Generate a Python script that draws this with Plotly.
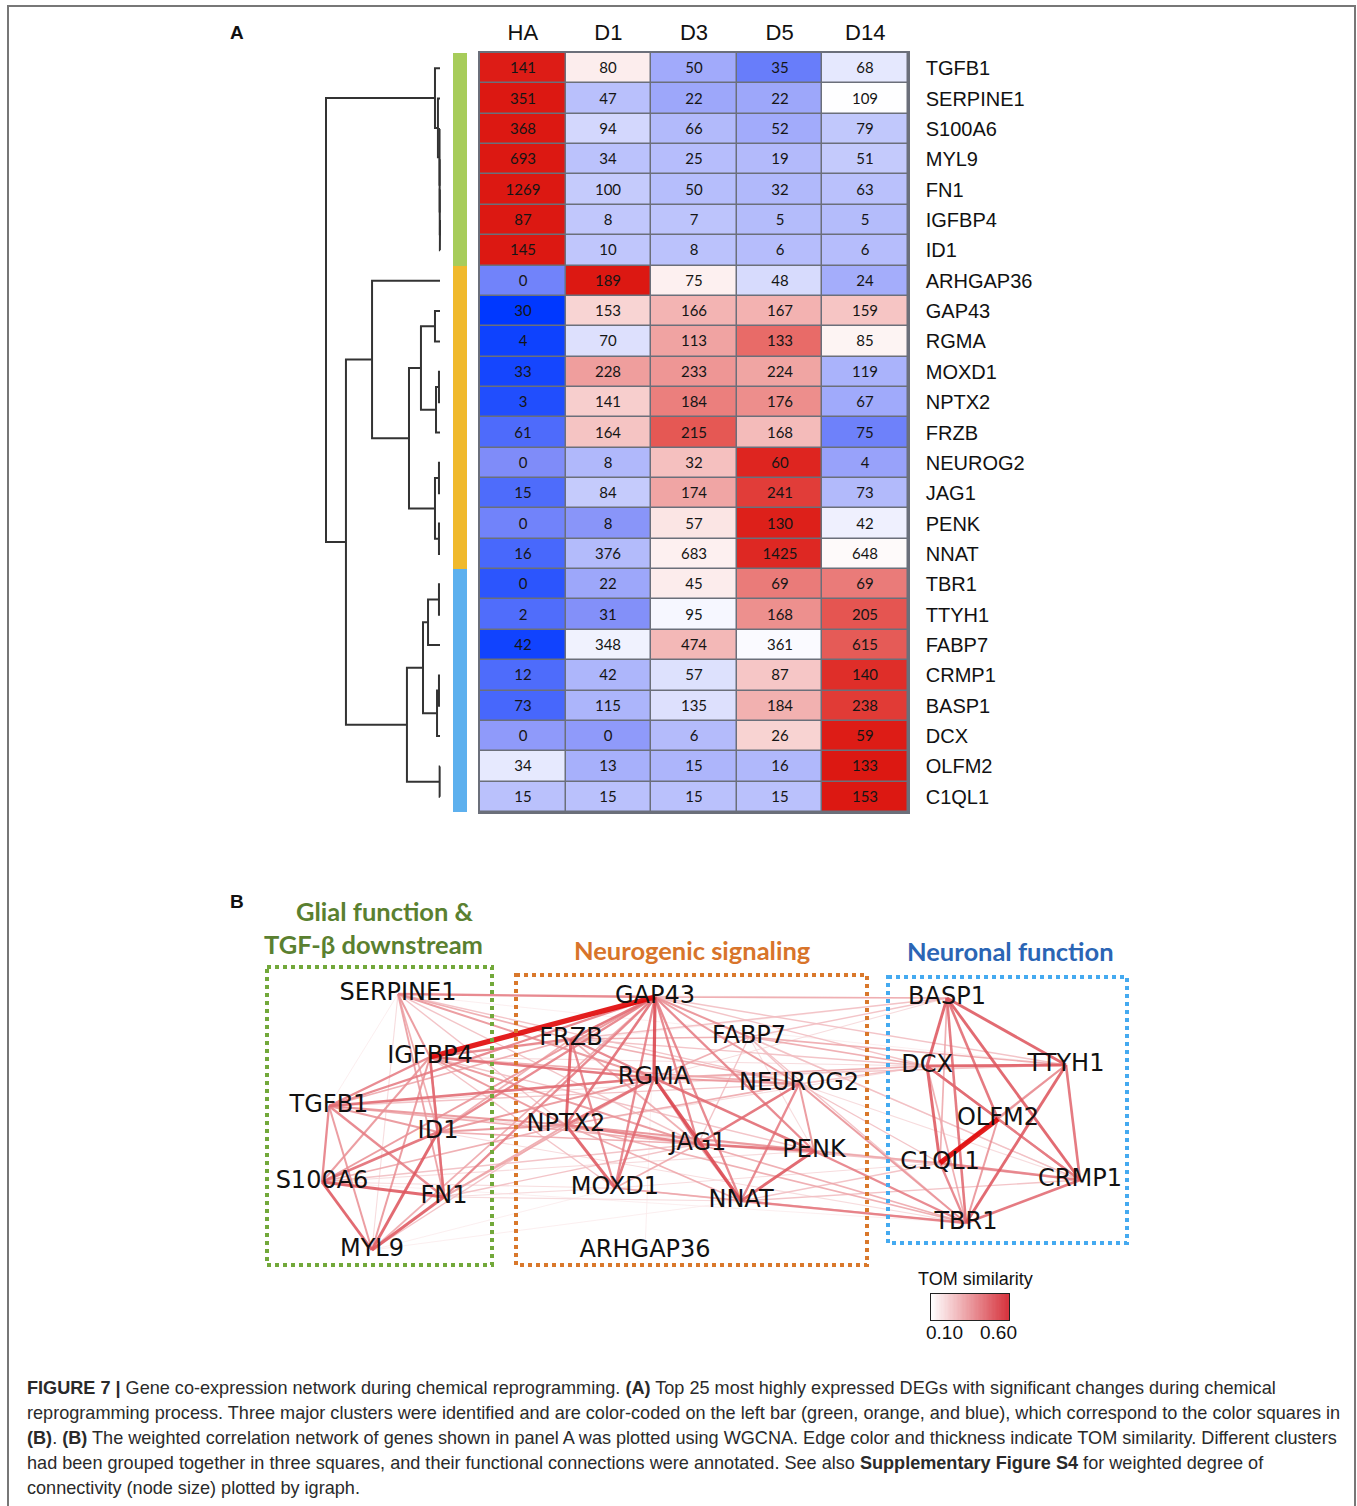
import plotly.graph_objects as go
import numpy as np

W, H = 1357, 1506

# ---------------- DATA ----------------
genes = ["TGFB1", "SERPINE1", "S100A6", "MYL9", "FN1", "IGFBP4", "ID1",
         "ARHGAP36", "GAP43", "RGMA", "MOXD1", "NPTX2", "FRZB", "NEUROG2",
         "JAG1", "PENK", "NNAT", "TBR1", "TTYH1", "FABP7", "CRMP1", "BASP1",
         "DCX", "OLFM2", "C1QL1"]
stages = ["HA", "D1", "D3", "D5", "D14"]
HA = [141, 351, 368, 693, 1269, 87, 145, 0, 30, 4, 33, 3, 61, 0, 15, 0, 16, 0, 2, 42, 12, 73, 0, 34, 15]
D1 = [80, 47, 94, 34, 100, 8, 10, 189, 153, 70, 228, 141, 164, 8, 84, 8, 376, 22, 31, 348, 42, 115, 0, 13, 15]
D3 = [50, 22, 66, 25, 50, 7, 8, 75, 166, 113, 233, 184, 215, 32, 174, 57, 683, 45, 95, 474, 57, 135, 6, 15, 15]
D5 = [35, 22, 52, 19, 32, 5, 6, 48, 167, 133, 224, 176, 168, 60, 241, 130, 1425, 69, 168, 361, 87, 184, 26, 16, 15]
D14 = [68, 109, 79, 51, 63, 5, 6, 24, 159, 85, 119, 67, 75, 4, 73, 42, 648, 69, 205, 615, 140, 238, 59, 133, 153]
cluster = ["green"] * 7 + ["orange"] * 10 + ["blue"] * 8

# dendrogram (height, left, right); leaves are gene names
dendro = (1.00,
          (0.044, "TGFB1",
           (0.018, "SERPINE1",
            (0.004, "S100A6", (0.003, "MYL9", (0.002, "FN1", (0.001, "IGFBP4", "ID1")))))),
          (0.825,
           (0.596, "ARHGAP36",
            (0.272,
             (0.167, (0.044, "GAP43", "RGMA"), (0.035, (0.009, "MOXD1", "NPTX2"), "FRZB")),
             (0.044, (0.009, "NEUROG2", "JAG1"), (0.009, "PENK", "NNAT")))),
           (0.29,
            (0.149, (0.105, (0.009, "TBR1", "TTYH1"), "FABP7"),
             (0.026, (0.009, "CRMP1", "BASP1"), "DCX")),
            (0.003, "OLFM2", "C1QL1"))))

# network layout (node positions in layout units)
node_names = ["SERPINE1", "IGFBP4", "TGFB1", "ID1", "S100A6", "FN1", "MYL9",
              "GAP43", "FRZB", "FABP7", "RGMA", "NEUROG2", "NPTX2", "JAG1", "PENK",
              "MOXD1", "NNAT", "ARHGAP36",
              "BASP1", "DCX", "TTYH1", "OLFM2", "C1QL1", "CRMP1", "TBR1"]
node_x = [398, 430, 329, 438, 322, 444, 372,
          655, 571, 749, 654, 799, 566, 698, 814,
          615, 741, 645,
          947, 927, 1066, 998, 940, 1080, 966]
node_y = [994, 1057, 1106, 1132, 1182, 1197, 1250,
          997, 1039, 1037, 1078, 1084, 1125, 1144, 1151,
          1188, 1201, 1251,
          998, 1066, 1065, 1119, 1163, 1180, 1223]

edges = [
    ("SERPINE1", "IGFBP4", 0.30), ("SERPINE1", "ID1", 0.25), ("SERPINE1", "FN1", 0.28),
    ("SERPINE1", "TGFB1", 0.12), ("SERPINE1", "S100A6", 0.10), ("SERPINE1", "MYL9", 0.15),
    ("IGFBP4", "TGFB1", 0.35), ("IGFBP4", "ID1", 0.30), ("IGFBP4", "FN1", 0.40),
    ("IGFBP4", "S100A6", 0.30), ("IGFBP4", "MYL9", 0.30), ("TGFB1", "ID1", 0.30),
    ("TGFB1", "S100A6", 0.35), ("TGFB1", "FN1", 0.35), ("TGFB1", "MYL9", 0.30),
    ("ID1", "S100A6", 0.40), ("ID1", "MYL9", 0.45), ("ID1", "FN1", 0.30),
    ("S100A6", "FN1", 0.45), ("S100A6", "MYL9", 0.45), ("FN1", "MYL9", 0.45),
    ("IGFBP4", "GAP43", 0.85), ("SERPINE1", "GAP43", 0.35), ("SERPINE1", "FRZB", 0.25),
    ("SERPINE1", "RGMA", 0.30), ("SERPINE1", "NPTX2", 0.20), ("SERPINE1", "NEUROG2", 0.20),
    ("SERPINE1", "JAG1", 0.20), ("SERPINE1", "BASP1", 0.12), ("IGFBP4", "FRZB", 0.35),
    ("IGFBP4", "RGMA", 0.40), ("IGFBP4", "NPTX2", 0.30), ("IGFBP4", "NEUROG2", 0.25),
    ("IGFBP4", "JAG1", 0.30), ("IGFBP4", "PENK", 0.20), ("IGFBP4", "MOXD1", 0.20),
    ("TGFB1", "GAP43", 0.35), ("TGFB1", "RGMA", 0.40), ("TGFB1", "FRZB", 0.25),
    ("TGFB1", "NPTX2", 0.30), ("TGFB1", "JAG1", 0.25), ("TGFB1", "NEUROG2", 0.20),
    ("TGFB1", "PENK", 0.15), ("ID1", "GAP43", 0.35), ("ID1", "NPTX2", 0.30),
    ("ID1", "JAG1", 0.25), ("ID1", "RGMA", 0.30), ("ID1", "FRZB", 0.25),
    ("S100A6", "GAP43", 0.30), ("S100A6", "NPTX2", 0.25), ("S100A6", "JAG1", 0.20),
    ("S100A6", "MOXD1", 0.15), ("S100A6", "PENK", 0.15), ("FN1", "GAP43", 0.35),
    ("FN1", "NPTX2", 0.25), ("FN1", "RGMA", 0.25), ("FN1", "JAG1", 0.20),
    ("FN1", "MOXD1", 0.15), ("FN1", "NNAT", 0.15), ("FN1", "TBR1", 0.10),
    ("MYL9", "GAP43", 0.25), ("MYL9", "NPTX2", 0.20), ("MYL9", "MOXD1", 0.12),
    ("MYL9", "NNAT", 0.12), ("MYL9", "TBR1", 0.10),
    ("GAP43", "FRZB", 0.40), ("GAP43", "RGMA", 0.50), ("GAP43", "NPTX2", 0.40),
    ("GAP43", "MOXD1", 0.35), ("GAP43", "JAG1", 0.35), ("GAP43", "NNAT", 0.35),
    ("GAP43", "PENK", 0.35), ("GAP43", "NEUROG2", 0.30), ("GAP43", "FABP7", 0.30),
    ("GAP43", "ARHGAP36", 0.12), ("FRZB", "NPTX2", 0.45), ("FRZB", "MOXD1", 0.35),
    ("FRZB", "RGMA", 0.35), ("FRZB", "JAG1", 0.25), ("FRZB", "FABP7", 0.25),
    ("FRZB", "NEUROG2", 0.25), ("RGMA", "NPTX2", 0.40), ("RGMA", "MOXD1", 0.40),
    ("RGMA", "JAG1", 0.35), ("RGMA", "NNAT", 0.50), ("RGMA", "PENK", 0.40),
    ("RGMA", "NEUROG2", 0.30), ("RGMA", "FABP7", 0.25), ("NPTX2", "MOXD1", 0.45),
    ("NPTX2", "JAG1", 0.35), ("NPTX2", "PENK", 0.30), ("NPTX2", "NNAT", 0.25),
    ("NPTX2", "NEUROG2", 0.25), ("MOXD1", "JAG1", 0.25), ("MOXD1", "NNAT", 0.20),
    ("MOXD1", "ARHGAP36", 0.10), ("JAG1", "NEUROG2", 0.40), ("JAG1", "PENK", 0.40),
    ("JAG1", "NNAT", 0.30), ("NEUROG2", "NNAT", 0.35), ("NEUROG2", "PENK", 0.30),
    ("PENK", "NNAT", 0.45), ("FABP7", "NEUROG2", 0.20), ("FABP7", "JAG1", 0.20),
    ("FABP7", "PENK", 0.15), ("ARHGAP36", "NNAT", 0.10),
    ("GAP43", "BASP1", 0.25), ("GAP43", "TTYH1", 0.20), ("GAP43", "DCX", 0.20),
    ("GAP43", "CRMP1", 0.15), ("FRZB", "BASP1", 0.20), ("FRZB", "DCX", 0.20),
    ("FABP7", "BASP1", 0.20), ("FABP7", "DCX", 0.25), ("FABP7", "TTYH1", 0.25),
    ("FABP7", "CRMP1", 0.20), ("FABP7", "TBR1", 0.20), ("RGMA", "DCX", 0.25),
    ("RGMA", "TTYH1", 0.20), ("RGMA", "BASP1", 0.15), ("NEUROG2", "TBR1", 0.30),
    ("NEUROG2", "DCX", 0.20), ("NEUROG2", "C1QL1", 0.20), ("NEUROG2", "CRMP1", 0.15),
    ("NPTX2", "TBR1", 0.25), ("NPTX2", "C1QL1", 0.15), ("NPTX2", "DCX", 0.15),
    ("JAG1", "TBR1", 0.25), ("JAG1", "C1QL1", 0.20), ("PENK", "TBR1", 0.35),
    ("PENK", "C1QL1", 0.25), ("PENK", "CRMP1", 0.20), ("NNAT", "TBR1", 0.35),
    ("NNAT", "CRMP1", 0.20), ("NNAT", "C1QL1", 0.20), ("MOXD1", "TBR1", 0.25),
    ("MOXD1", "C1QL1", 0.15), ("ARHGAP36", "TBR1", 0.10), ("ID1", "TBR1", 0.15),
    ("S100A6", "TBR1", 0.12), ("TGFB1", "DCX", 0.15), ("IGFBP4", "DCX", 0.15),
    ("IGFBP4", "BASP1", 0.12), ("SERPINE1", "TTYH1", 0.12),
    ("BASP1", "DCX", 0.45), ("BASP1", "TTYH1", 0.45), ("BASP1", "OLFM2", 0.40),
    ("BASP1", "CRMP1", 0.45), ("BASP1", "TBR1", 0.40), ("BASP1", "C1QL1", 0.25),
    ("DCX", "TTYH1", 0.45), ("DCX", "C1QL1", 0.45), ("DCX", "OLFM2", 0.40),
    ("DCX", "CRMP1", 0.35), ("DCX", "TBR1", 0.25), ("TTYH1", "TBR1", 0.45),
    ("TTYH1", "CRMP1", 0.40), ("TTYH1", "C1QL1", 0.30), ("TTYH1", "OLFM2", 0.25),
    ("OLFM2", "C1QL1", 0.85), ("OLFM2", "CRMP1", 0.35), ("OLFM2", "TBR1", 0.30),
    ("C1QL1", "TBR1", 0.35), ("C1QL1", "CRMP1", 0.35), ("CRMP1", "TBR1", 0.40),
]

tom_ticks = ["0.10", "0.60"]

caption_lines = [
    "<b>FIGURE 7 |</b> Gene co-expression network during chemical reprogramming. <b>(A)</b> Top 25 most highly expressed DEGs with significant changes during chemical",
    "reprogramming process. Three major clusters were identified and are color-coded on the left bar (green, orange, and blue), which correspond to the color squares in",
    "<b>(B)</b>. <b>(B)</b> The weighted correlation network of genes shown in panel A was plotted using WGCNA. Edge color and thickness indicate TOM similarity. Different clusters",
    "had been grouped together in three squares, and their functional connections were annotated. See also <b>Supplementary Figure S4</b> for weighted degree of",
    "connectivity (node size) plotted by igraph.",
]

# ---------------- helpers ----------------
def fx(p):
    return p / W


def fy(p):
    return 1 - p / H


vals = np.array([HA, D1, D3, D5, D14], dtype=float).T  # rows = genes
zs = (vals - vals.mean(axis=1, keepdims=True)) / vals.std(axis=1, ddof=1, keepdims=True)

fig = go.Figure()

# heatmap
fig.add_trace(go.Heatmap(
    z=zs, x=list(range(5)), y=list(range(len(genes))),
    text=vals.astype(int), texttemplate="%{text}",
    textfont=dict(family="Lato", size=15, color="#151515"),
    colorscale=[[0, "#0038ff"], [0.25, "#7f8cf9"], [0.5, "#ffffff"],
                [0.75, "#ec8a88"], [1, "#dc1812"]],
    zmin=-1.65, zmax=1.65, showscale=False, xgap=1.5, ygap=1.5,
    hoverinfo="skip", xaxis="x", yaxis="y"))

# cluster bar
cl_idx = {"green": 0, "orange": 1, "blue": 2}
fig.add_trace(go.Heatmap(
    z=[[cl_idx[c]] for c in cluster], x=[0], y=list(range(len(genes))),
    colorscale=[[0, "#a7cc5a"], [0.333, "#a7cc5a"], [0.333, "#f0b92c"], [0.667, "#f0b92c"],
                [0.667, "#5db0ee"], [1, "#5db0ee"]],
    zmin=0, zmax=2, showscale=False, hoverinfo="skip", xaxis="x2", yaxis="y2"))

# dendrogram
dx, dy = [], []


def walk(node):
    if isinstance(node, str):
        return genes.index(node), 0.0
    h, left, right = node
    yl, hl = walk(left)
    yr, hr = walk(right)
    dx.extend([hl, h, h, hr, None])
    dy.extend([yl, yl, yr, yr, None])
    return (yl + yr) / 2, h


walk(dendro)
fig.add_trace(go.Scatter(x=dx, y=dy, mode="lines", line=dict(color="#333333", width=2),
                         hoverinfo="skip", xaxis="x3", yaxis="y3"))

# network edges
def hex2rgb(h):
    h = h.lstrip("#")
    return np.array([int(h[i:i + 2], 16) for i in (0, 2, 4)], dtype=float)


c_lo, c_mid, c_hi = hex2rgb("#ffffff"), hex2rgb("#d8343e"), hex2rgb("#e00000")


def edge_color(w):
    if w <= 0.55:
        f = min(max((w - 0.1) / 0.45, 0), 1) ** 0.75
        c = c_lo * (1 - f) + c_mid * f
    else:
        g = min((w - 0.55) / 0.25, 1)
        c = c_mid * (1 - g) + c_hi * g
    return "rgb(%d,%d,%d)" % tuple(c.round())


pos = {n: (x, y) for n, x, y in zip(node_names, node_x, node_y)}
for a, b, w in sorted(edges, key=lambda e: e[2]):
    fig.add_trace(go.Scatter(
        x=[pos[a][0], pos[b][0]], y=[pos[a][1], pos[b][1]], mode="lines",
        line=dict(color=edge_color(w), width=0.8 + 6.0 * (w - 0.1)),
        opacity=0.88, hoverinfo="skip", xaxis="x4", yaxis="y4"))

fig.add_trace(go.Scatter(
    x=node_x, y=node_y, mode="text", text=node_names, textposition="middle center",
    textfont=dict(family="DejaVu Sans", size=24, color="#111111"),
    hoverinfo="skip", xaxis="x4", yaxis="y4"))

# TOM colorbar
grad = np.linspace(0.1, 0.6, 60)
fig.add_trace(go.Heatmap(
    z=[grad], x=grad, y=[0],
    colorscale=[[0, "#ffffff"], [1, "#d6343e"]], zmin=0.1, zmax=0.6,
    showscale=False, hoverinfo="skip", xaxis="x5", yaxis="y5"))

# ---------------- layout ----------------
noax = dict(showgrid=False, zeroline=False, showticklabels=False, ticks="")
row_range = [len(genes) - 0.5, -0.5]
hm_y_dom = [fy(812), fy(53)]

layout = dict(
    width=W, height=H, margin=dict(l=0, r=0, t=0, b=0),
    paper_bgcolor="white", plot_bgcolor="white", showlegend=False,
    xaxis=dict(domain=[fx(480), fx(908)], range=[-0.5, 4.5], side="top",
               tickvals=list(range(5)), ticktext=stages, ticks="",
               tickfont=dict(family="Liberation Sans", size=22, color="#111"),
               showline=True, mirror=True, linecolor="#6b6f7a", linewidth=1.5,
               showgrid=False, zeroline=False, anchor="y", ticklabelstandoff=2),
    yaxis=dict(domain=hm_y_dom, range=row_range, side="right",
               tickvals=list(range(len(genes))), ticktext=genes, ticks="",
               tickfont=dict(family="Liberation Sans", size=20, color="#111"),
               showline=True, mirror=True, linecolor="#6b6f7a", linewidth=1.5,
               showgrid=False, zeroline=False, anchor="x", ticklabelstandoff=12),
    xaxis2=dict(domain=[fx(453), fx(467)], range=[-0.5, 0.5], anchor="y2", **noax),
    yaxis2=dict(domain=hm_y_dom, range=row_range, anchor="x2", **noax),
    xaxis3=dict(domain=[fx(320), fx(445)], range=[1.0526, -0.0439], anchor="y3", **noax),
    yaxis3=dict(domain=hm_y_dom, range=row_range, anchor="x3", **noax),
    xaxis4=dict(domain=[fx(250), fx(1140)], range=[250, 1140], anchor="y4", **noax),
    yaxis4=dict(domain=[fy(1290), fy(880)], range=[1290, 880], anchor="x4", **noax),
    xaxis5=dict(domain=[fx(931), fx(1009)], range=[grad[0] - 0.0042, grad[-1] + 0.0042],
                anchor="y5", showline=True, mirror=True, linecolor="#222", linewidth=1.2,
                showgrid=False, zeroline=False, showticklabels=False, ticks=""),
    yaxis5=dict(domain=[fy(1320), fy(1294)], range=[-0.5, 0.5], anchor="x5",
                showline=True, mirror=True, linecolor="#222", linewidth=1.2,
                showgrid=False, zeroline=False, showticklabels=False, ticks=""),
)

shapes = [
    # heatmap cell border background
    dict(type="rect", xref="x", yref="y", x0=-0.5, x1=4.5, y0=-0.5, y1=len(genes) - 0.5,
         fillcolor="#6b6f7a", line=dict(width=0), layer="below"),
    # figure frame
    dict(type="rect", xref="paper", yref="paper", x0=fx(8), x1=fx(1355), y0=fy(1530), y1=fy(6),
         line=dict(color="#777777", width=2), fillcolor="rgba(0,0,0,0)"),
    # cluster boxes
    dict(type="rect", xref="x4", yref="y4", x0=267, x1=492, y0=967, y1=1265,
         line=dict(color="#72a83a", width=4, dash="dot")),
    dict(type="rect", xref="x4", yref="y4", x0=516, x1=867, y0=975, y1=1265,
         line=dict(color="#d9782b", width=4, dash="dot")),
    dict(type="rect", xref="x4", yref="y4", x0=888, x1=1127, y0=977, y1=1243,
         line=dict(color="#45aaf0", width=4, dash="dot")),
]


def ann(text, x, y, size, color="#111", family="Liberation Sans", xanchor="center"):
    return dict(text=text, x=fx(x), y=fy(y), xref="paper", yref="paper", showarrow=False,
                xanchor=xanchor, yanchor="middle",
                font=dict(family=family, size=size, color=color))


annotations = [
    ann("<b>A</b>", 237, 33, 19),
    ann("<b>B</b>", 237, 901, 19),
    ann("<b>Glial function &</b>", 385, 911, 25.5, "#5a8030", "Lato"),
    ann("<b>TGF-β downstream</b>", 373, 944, 25.5, "#5a8030", "Lato"),
    ann("<b>Neurogenic signaling</b>", 692, 950, 25.5, "#d8742a", "Lato"),
    ann("<b>Neuronal function</b>", 1010, 951, 25.5, "#2b65b5", "Lato"),
    ann("TOM similarity", 975, 1279, 18),
    ann(tom_ticks[0], 944, 1332, 19),
    ann(tom_ticks[1], 998, 1332, 19),
]
for i, line in enumerate(caption_lines):
    annotations.append(ann(line, 25, 1388 + 25 * i, 18.1, "#2a2a2a", xanchor="left"))

layout["shapes"] = shapes
layout["annotations"] = annotations
fig.update_layout(**layout)

fig.write_html("out.html", config={"displayModeBar": False},
               post_script="document.body.style.margin='0';document.body.style.padding='0';")
